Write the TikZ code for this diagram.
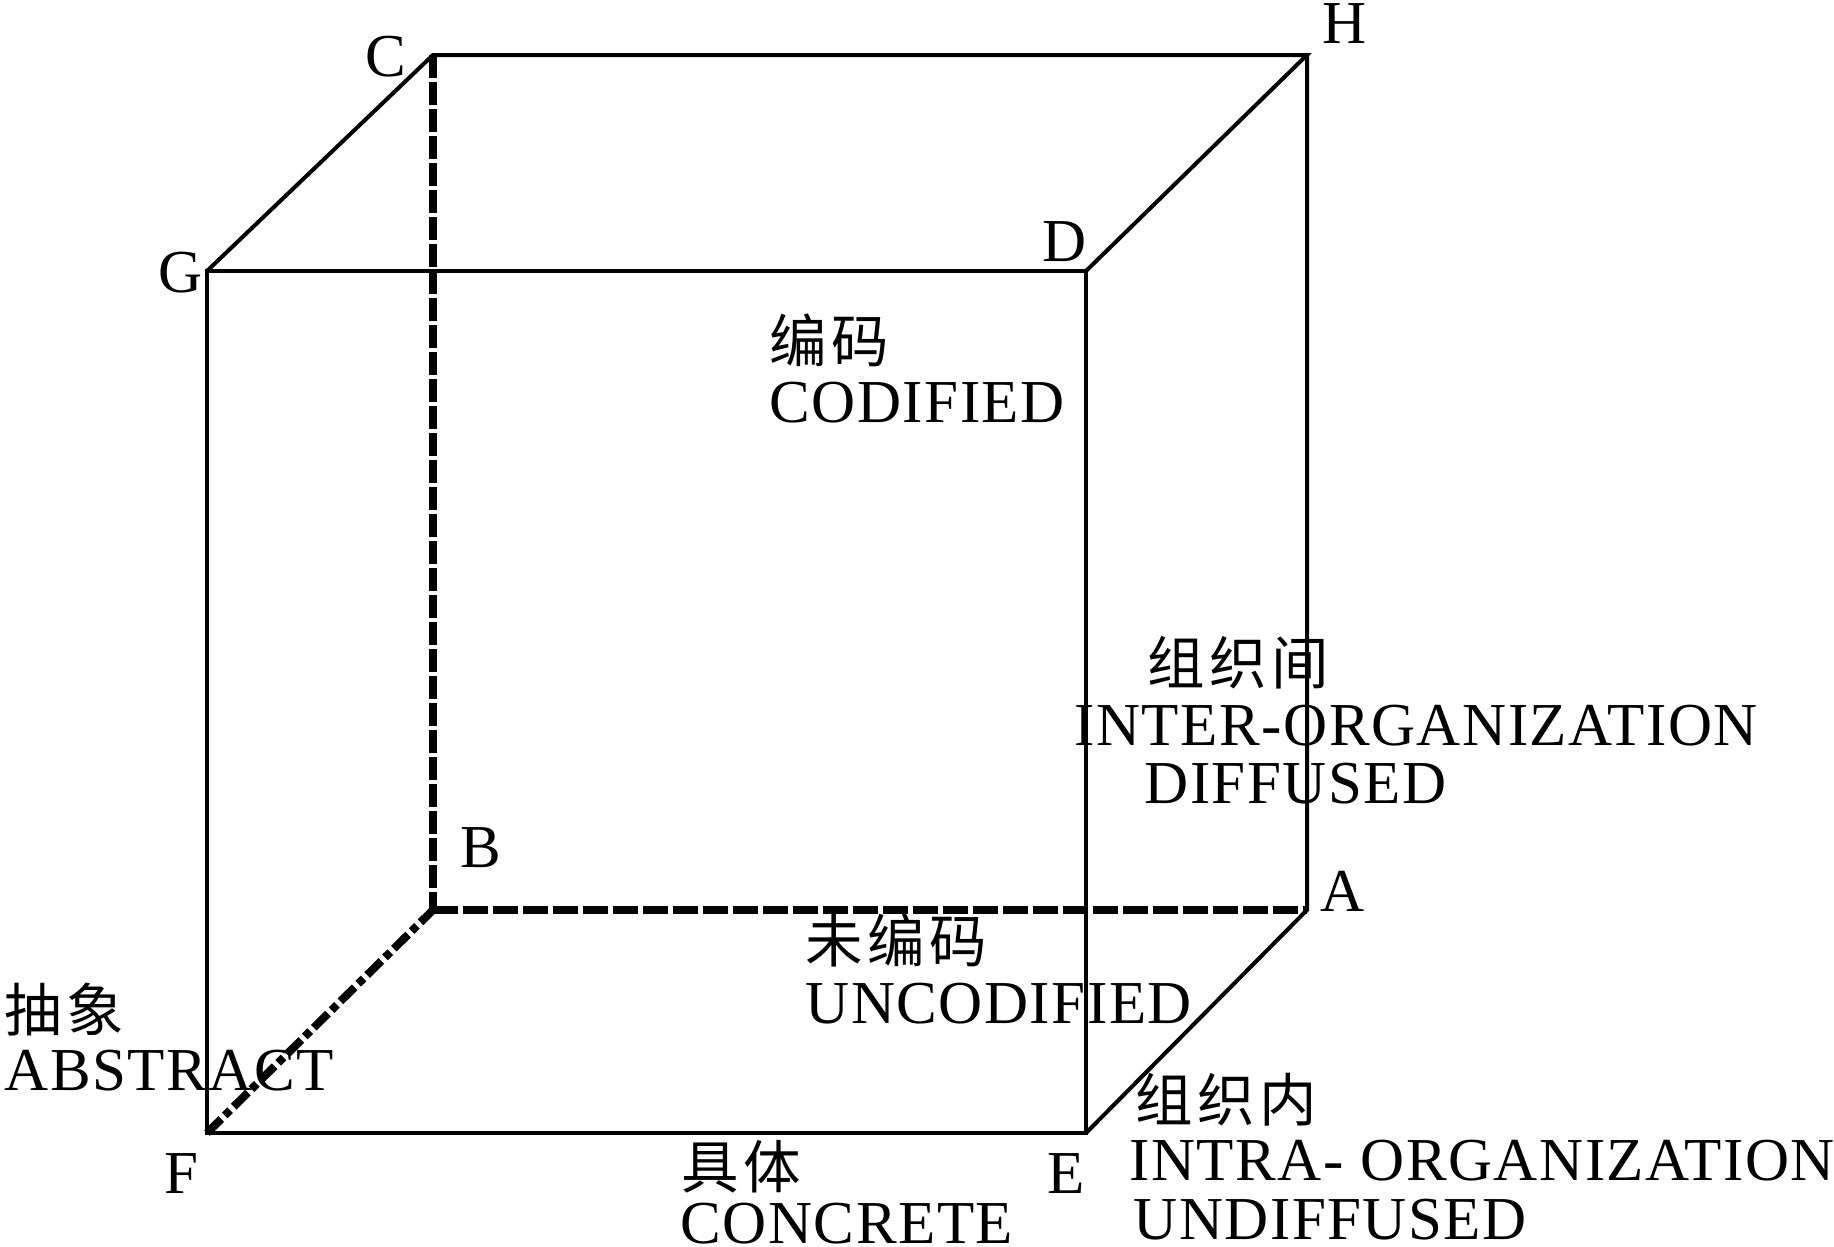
\documentclass[tikz,border=0pt]{standalone}
\usepackage{fontspec}
\setmainfont[LetterSpace=2.5]{Liberation Serif}
\newfontfamily\cjk[LetterSpace=8]{Noto Sans CJK SC}

\begin{document}
\begin{tikzpicture}[x=0.4pt,y=-0.4pt,
    edge/.style={line width=1.6pt,line join=miter},
    hidden/.style={line width=3.2pt,dash pattern=on 9pt off 1.8pt},
    corner/.style={inner sep=0pt,anchor=base west,font=\fontsize{24.4}{26}\selectfont},
    lbl/.style={inner sep=0pt,anchor=base west,font=\fontsize{24.4}{26}\selectfont},
    zh/.style={inner sep=0pt,anchor=base west,font=\cjk\fontsize{23}{26}\selectfont}]

    \useasboundingbox (0,0) rectangle (1834,1247);

    % Cube corners
    \coordinate (F) at (207,1133);
    \coordinate (E) at (1086,1133);
    \coordinate (G) at (207,271);
    \coordinate (D) at (1086,271);
    \coordinate (C) at (433,55);
    \coordinate (H) at (1307,55);
    \coordinate (B) at (433,910);
    \coordinate (A) at (1307,910);

    % Visible edges
    \draw[edge] (F) -- (E) -- (D) -- (G) -- cycle;
    \draw[edge] (G) -- (C) -- (H) -- (D);
    \draw[edge] (H) -- (A) -- (E);

    % Hidden edges
    \draw[hidden] (C) -- (B);
    \draw[hidden,dash pattern=on 10pt off 2pt] (B) -- (A);
    \draw[hidden,dash pattern=on 8pt off 2pt on 3pt off 2pt] (F) -- (B);

    % Corner letters
    \node[corner] (lC) at (365,76) {C};
    \node[corner] (lH) at (1322,43) {H};
    \node[corner] (lG) at (158,292) {G};
    \node[corner] (lD) at (1042,261) {D};
    \node[corner] (lB) at (460,867) {B};
    \node[corner] (lA) at (1320,911) {A};
    \node[corner] (lF) at (164,1193) {F};
    \node[corner] (lE) at (1047,1193) {E};

    % Axis texts
    \node[zh]  (codZh)    at (769,362)   {编码};
    \node[lbl] (cod)      at (769,422)   {CODIFIED};
    \node[zh]  (uncodZh)  at (805,962)   {未编码};
    \node[lbl] (uncod)    at (805,1023)  {UNCODIFIED};
    \node[zh]  (interZh)  at (1147,684)  {组织间};
    \node[lbl] (inter)    at (1074,745)  {INTER-ORGANIZATION};
    \node[lbl] (diff)     at (1144,803)  {DIFFUSED};
    \node[zh]  (intraZh)  at (1135,1121) {组织内};
    \node[lbl] (intra)    at (1129,1180) {INTRA- ORGANIZATION};
    \node[lbl] (undiff)   at (1133,1239) {UNDIFFUSED};
    \node[zh]  (absZh)    at (4,1031)    {抽象};
    \node[lbl] (abs)      at (4,1090)    {ABSTRACT};
    \node[zh]  (concZh)   at (681,1188)  {具体};
    \node[lbl] (conc)     at (680,1243)  {CONCRETE};

\end{tikzpicture}
\end{document}
